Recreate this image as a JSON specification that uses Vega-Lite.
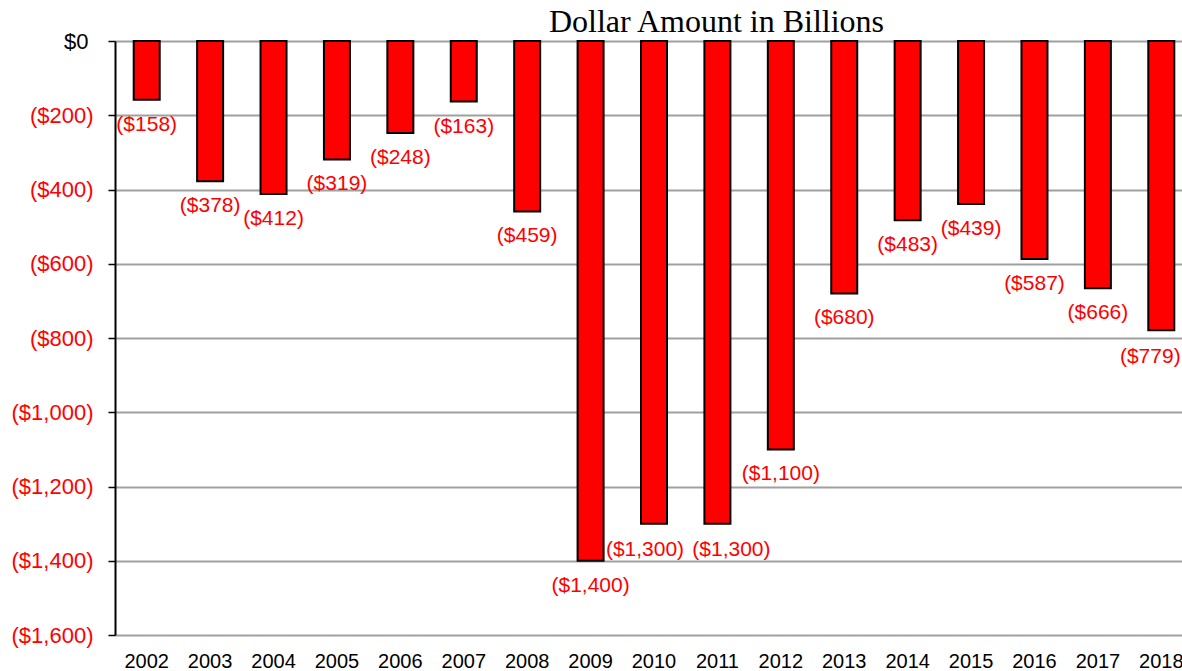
{
  "$schema": "https://vega.github.io/schema/vega-lite/v6.json",
  "autosize": "none",
  "width": 1067,
  "height": 594,
  "padding": {"left": 115, "top": 41, "right": 0, "bottom": 36},
  "background": "white",
  "title": {
    "text": "Dollar Amount in Billions",
    "font": "Liberation Serif",
    "fontSize": 32,
    "fontWeight": "normal",
    "color": "black",
    "anchor": "middle",
    "baseline": "alphabetic",
    "offset": -34,
    "dx": 68
  },
  "data": {
    "values": [
      {"year": "2002", "amount": -158},
      {"year": "2003", "amount": -378},
      {"year": "2004", "amount": -412},
      {"year": "2005", "amount": -319},
      {"year": "2006", "amount": -248},
      {"year": "2007", "amount": -163},
      {"year": "2008", "amount": -459},
      {"year": "2009", "amount": -1400},
      {"year": "2010", "amount": -1300},
      {"year": "2011", "amount": -1300},
      {"year": "2012", "amount": -1100},
      {"year": "2013", "amount": -680},
      {"year": "2014", "amount": -483},
      {"year": "2015", "amount": -439},
      {"year": "2016", "amount": -587},
      {"year": "2017", "amount": -666},
      {"year": "2018", "amount": -779}
    ]
  },
  "encoding": {
    "x": {
      "field": "year",
      "type": "ordinal",
      "scale": {"range": [0, 1078], "paddingInner": 0.59, "paddingOuter": 0.295},
      "axis": {
        "title": null,
        "domain": false,
        "ticks": false,
        "labelAngle": 0,
        "labelFont": "Liberation Sans",
        "labelFontSize": 20,
        "labelColor": "black",
        "labelPadding": 16,
        "grid": false
      }
    },
    "y": {
      "field": "amount",
      "type": "quantitative",
      "scale": {"domain": [-1600, 0], "nice": false, "zero": true},
      "axis": {
        "title": null,
        "values": [0, -200, -400, -600, -800, -1000, -1200, -1400, -1600],
        "format": "($,.0f",
        "labelFont": "Liberation Sans",
        "labelFontSize": 22,
        "labelColor": {"condition": {"test": "datum.value == 0", "value": "black"}, "value": "#FF0000"},
        "labelPadding": {"condition": {"test": "datum.value == 0", "value": 20}, "value": 15},
        "tickSize": 7,
        "tickColor": "black",
        "tickWidth": 1.5,
        "domainColor": "black",
        "domainWidth": 2,
        "grid": true,
        "gridColor": "#A0A0A0",
        "gridWidth": 2
      }
    }
  },
  "layer": [
    {
      "mark": {"type": "bar", "color": "#FF0000", "stroke": "black", "strokeWidth": 2}
    },
    {
      "transform": [{"filter": "datum.year != '2010' && datum.year != '2011' && datum.year != '2018'"}],
      "mark": {"type": "text", "color": "#FF0000", "font": "Liberation Sans", "fontSize": 21, "baseline": "middle", "align": "center", "dy": 25},
      "encoding": {"text": {"field": "amount", "type": "quantitative", "format": "($,.0f"}}
    },
    {
      "transform": [{"filter": "datum.year == '2010'"}],
      "mark": {"type": "text", "color": "#FF0000", "font": "Liberation Sans", "fontSize": 21, "baseline": "middle", "align": "center", "dy": 26, "dx": -9},
      "encoding": {"text": {"field": "amount", "type": "quantitative", "format": "($,.0f"}}
    },
    {
      "transform": [{"filter": "datum.year == '2011'"}],
      "mark": {"type": "text", "color": "#FF0000", "font": "Liberation Sans", "fontSize": 21, "baseline": "middle", "align": "center", "dy": 26, "dx": 14},
      "encoding": {"text": {"field": "amount", "type": "quantitative", "format": "($,.0f"}}
    },
    {
      "transform": [{"filter": "datum.year == '2018'"}],
      "mark": {"type": "text", "color": "#FF0000", "font": "Liberation Sans", "fontSize": 21, "baseline": "middle", "align": "center", "dy": 27, "dx": -11},
      "encoding": {"text": {"field": "amount", "type": "quantitative", "format": "($,.0f"}}
    }
  ],
  "config": {"view": {"stroke": null}}
}
